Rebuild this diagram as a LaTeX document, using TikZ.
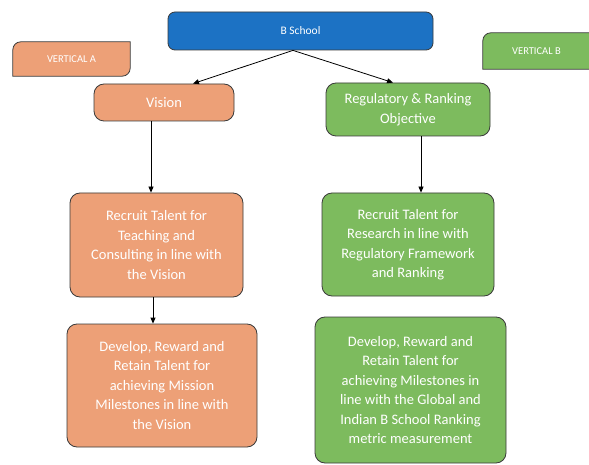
\documentclass[tikz,border=0pt]{standalone}
\usepackage{fontspec}
\setmainfont{Carlito}
\usetikzlibrary{arrows.meta,backgrounds,calc}
\definecolor{borange}{HTML}{EDA077}
\definecolor{bgreen}{HTML}{7DBB5E}
\definecolor{bblue}{HTML}{1C72C4}
\definecolor{bline}{HTML}{3A3A3A}
\tikzset{
  box/.style={draw=bline, line width=0.8pt, rounded corners=10pt, inner sep=0pt,
    align=center, text=white, font=\fontsize{14.5}{19.5}\selectfont},
  obox/.style={box, fill=borange},
  gbox/.style={box, fill=bgreen},
  tagtext/.style={inner sep=0pt, text=white, font=\fontsize{10.5}{12}\selectfont},
  tagshape/.style={draw=bline, line width=0.8pt},
  arr/.style={draw=black, line width=0.8pt, -{Triangle[length=6pt,width=5pt]}}
}
\begin{document}
\begin{tikzpicture}[x=1pt,y=1pt]
\clip (0,0) rectangle (589,464);

\node[box, fill=bblue, rounded corners=7pt, minimum width=265pt, minimum height=38pt,
  font=\fontsize{11.5}{14}\selectfont] (bs) at (300.5,433) {B School};

\node[tagtext, minimum width=117pt, minimum height=34pt] (va) at (71.5,405) {VERTICAL A};
\node[tagtext, minimum width=107pt, minimum height=36pt] (vb) at (536.5,413) {VERTICAL B};
\begin{scope}[on background layer]
  \fill[white] (0,0) rectangle (589,464);
  \path[tagshape, fill=borange] (va.south west) -- ([yshift=-8pt]va.north west)
    arc[start angle=180, end angle=90, radius=8pt] -- (va.north east)
    -- ([yshift=8pt]va.south east) arc[start angle=0, end angle=-90, radius=8pt] -- cycle;
  \path[tagshape, fill=bgreen] (vb.south west) -- ([yshift=-8pt]vb.north west)
    arc[start angle=180, end angle=90, radius=8pt] -- ([xshift=12pt]vb.north east)
    -- ([xshift=12pt]vb.south east) -- cycle;
\end{scope}

\node[obox, minimum width=140pt, minimum height=37pt] (vision) at (164,361.5) {Vision};
\node[gbox, minimum width=164pt, minimum height=53pt] (reg) at (408,354.5)
  {Regulatory \& Ranking\\Objective};

\node[obox, minimum width=173pt, minimum height=104pt] (rl) at (156.5,219)
  {Recruit Talent for\\Teaching and\\Consulting in line with\\the Vision};
\node[gbox, minimum width=172pt, minimum height=103pt] (rr) at (408,219.5)
  {Recruit Talent for\\Research in line with\\Regulatory Framework\\and Ranking};

\node[obox, minimum width=190pt, minimum height=123pt] (dl) at (162,78.5)
  {Develop, Reward and\\Retain Talent for\\achieving Mission\\Milestones in line with\\the Vision};
\node[gbox, minimum width=191pt, minimum height=146pt] (dr) at (410.5,74)
  {Develop, Reward and\\Retain Talent for\\achieving Milestones in\\line with the Global and\\Indian B School Ranking\\metric measurement};

\draw[arr] ([xshift=-7.5pt]bs.south) -- ([xshift=29pt]vision.north);
\draw[arr] ([xshift=-7.5pt]bs.south) -- ([xshift=-15pt]reg.north);
\draw[arr] ([xshift=-13pt]vision.south) -- ([xshift=-13pt]vision.south |- rl.north);
\draw[arr] ([xshift=-3.5pt]rl.south) -- ([xshift=-3.5pt]rl.south |- dl.north);
\draw[arr] ([xshift=13pt]reg.south) -- ([xshift=13pt]reg.south |- rr.north);
\end{tikzpicture}
\end{document}
